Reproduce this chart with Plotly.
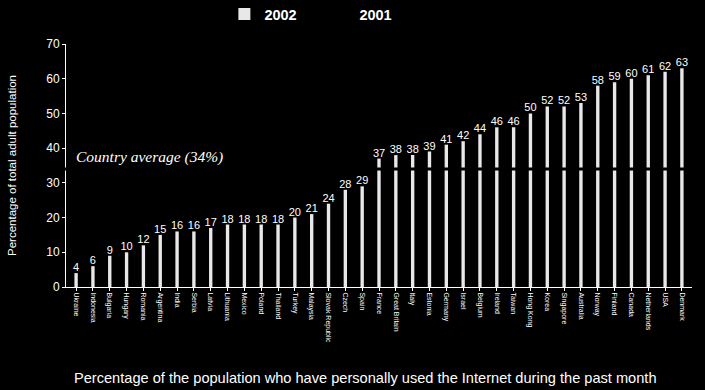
import plotly.graph_objects as go

countries = ["Ukraine", "Indonesia", "Bulgaria", "Hungary", "Romania", "Argentina", "India", "Serbia",
             "Latvia", "Lithuania", "Mexico", "Poland", "Thailand", "Turkey", "Malaysia",
             "Slovak Republic", "Czech", "Spain", "France", "Great Britain", "Italy", "Estonia",
             "Germany", "Israel", "Belgium", "Ireland", "Taiwan", "Hong Kong", "Korea", "Singapore",
             "Australia", "Norway", "Finland", "Canada", "Netherlands", "USA", "Denmark"]
values_2002 = [4, 6, 9, 10, 12, 15, 16, 16, 17, 18, 18, 18, 18, 20, 21, 24, 28, 29, 37, 38, 38, 39,
               41, 42, 44, 46, 46, 50, 52, 52, 53, 58, 59, 60, 61, 62, 63]
values_2001 = [None] * len(countries)
average = 34
y_ticks = [0, 10, 20, 30, 40, 50, 60, 70]

fig = go.Figure()
fig.add_trace(go.Bar(
    x=countries, y=values_2002, name="2002",
    marker=dict(color="#e8e8e8", line=dict(width=0)),
    width=0.2,
    text=[str(v) for v in values_2002], textposition="outside", constraintext="none",
    textfont=dict(color="white", size=11, family="Liberation Sans"),
    cliponaxis=False,
))
fig.add_trace(go.Bar(
    x=countries, y=values_2001, name="2001",
    marker=dict(color="black", line=dict(width=0, color="black")), width=0.2,
))

fig.add_shape(type="line", xref="paper", yref="y", x0=-0.01, x1=1, y0=average, y1=average,
              line=dict(color="black", width=3), layer="above")

fig.add_annotation(x=0.012, xref="paper", y=average + 0.4, yref="y", xanchor="left", yanchor="bottom",
                   text="<i>Country average (34%)</i>", showarrow=False,
                   font=dict(family="Liberation Serif", size=15.5, color="white"))
fig.add_annotation(x=0.478, xref="paper", y=-0.374, yref="paper", xanchor="center", yanchor="middle",
                   text="Percentage of the population who have personally used the Internet during the past month",
                   showarrow=False, font=dict(family="Liberation Sans", size=14.6, color="white"))

fig.update_layout(
    width=705, height=390,
    paper_bgcolor="black", plot_bgcolor="black",
    margin=dict(l=66, r=13, t=44, b=103, autoexpand=False),
    barmode="overlay",
    showlegend=True,
    legend=dict(orientation="h", x=0.253, xanchor="left", y=1.123, yanchor="middle",
                font=dict(color="white", size=14.5, family="Liberation Sans", weight="bold"),
                bgcolor="rgba(0,0,0,0)", entrywidth=50),
    font=dict(family="Liberation Sans", color="white"),
    xaxis=dict(tickangle=90, tickfont=dict(size=7, color="white"), showgrid=False,
               showline=True, linecolor="white", linewidth=1, ticks="outside", ticklen=3,
               tickcolor="white", range=[-0.6, 36.6]),
    yaxis=dict(range=[0, 70], tickvals=y_ticks, tickfont=dict(size=12, color="white"), showgrid=False,
               zeroline=False, showline=True, linecolor="white", linewidth=1, ticks="outside",
               ticklen=3, tickcolor="white",
               title=dict(text="Percentage of total adult population", font=dict(size=11.5, color="white"),
                          standoff=27)),
)

fig.write_html("out.html")
